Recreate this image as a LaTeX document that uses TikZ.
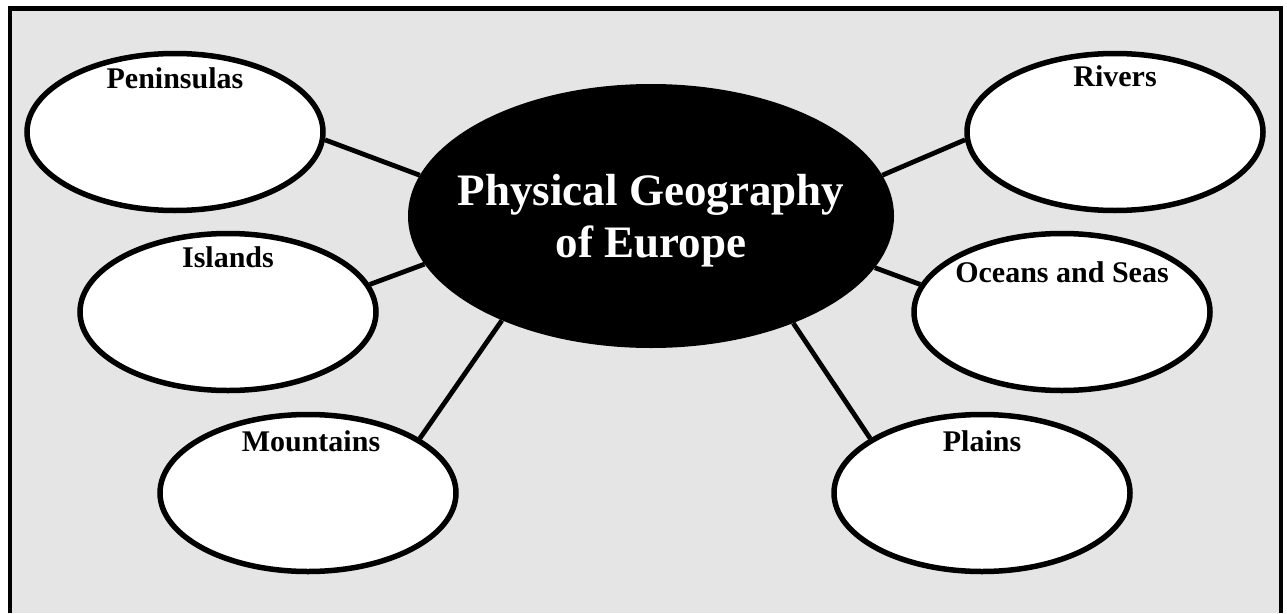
\documentclass[tikz,border=0pt]{standalone}
\usepackage{fontspec}
\setmainfont{Liberation Serif}
\usetikzlibrary{shapes.geometric}
\definecolor{sheet}{HTML}{E5E5E5}
\tikzset{
  topic/.style={ellipse,draw,line width=5.5pt,fill=white,minimum width=296pt,minimum height=157pt},
  hub/.style={ellipse,fill=black,minimum width=486pt,minimum height=264pt},
  topictext/.style={anchor=base,font=\bfseries\fontsize{30}{36}\selectfont},
  hubtext/.style={text=white,align=center,font=\bfseries\fontsize{45}{52}\selectfont},
  link/.style={line width=4.8pt}
}
\begin{document}
\begin{tikzpicture}[x=1pt,y=-1pt]
  \useasboundingbox (0,0) rectangle (1287,613);
  \fill[sheet] (10,8.5) rectangle (1281,613);
  \draw[line width=4.5pt] (10,613) -- (10,8.5) -- (1281,8.5) -- (1281,613);
  \node[hub] (geo) at (651,216) {};
  \node[hubtext] (geoT) at ([yshift=-4.5pt]geo.center) {Physical Geography\\of Europe};
  \node[topic] (pen) at (175,132) {};
  \node[topic] (isl) at (228,312) {};
  \node[topic] (mnt) at (308,493) {};
  \node[topic] (riv) at (1115,132) {};
  \node[topic] (sea) at (1062,312) {};
  \node[topic] (pln) at (982,493) {};
  \node[topictext] (penT) at ([yshift=-38pt]pen.north) {Peninsulas};
  \node[topictext] (islT) at ([yshift=-37pt]isl.north) {Islands};
  \node[topictext] (mntT) at ([xshift=3pt,yshift=-40pt]mnt.north) {Mountains};
  \node[topictext] (rivT) at ([yshift=-36pt]riv.north) {Rivers};
  \node[topictext] (seaT) at ([yshift=-52pt]sea.north) {Oceans and Seas};
  \node[topictext] (plnT) at ([yshift=-40pt]pln.north) {Plains};
  \draw[link]
  (pen.-3) edge (geo.170)
  (isl.11) edge (geo.192)
  (mnt.26) edge (geo.215)
  (riv.183) edge (geo.10)
  (sea.169) edge (geo.347)
  (pln.154) edge (geo.323);
\end{tikzpicture}
\end{document}
